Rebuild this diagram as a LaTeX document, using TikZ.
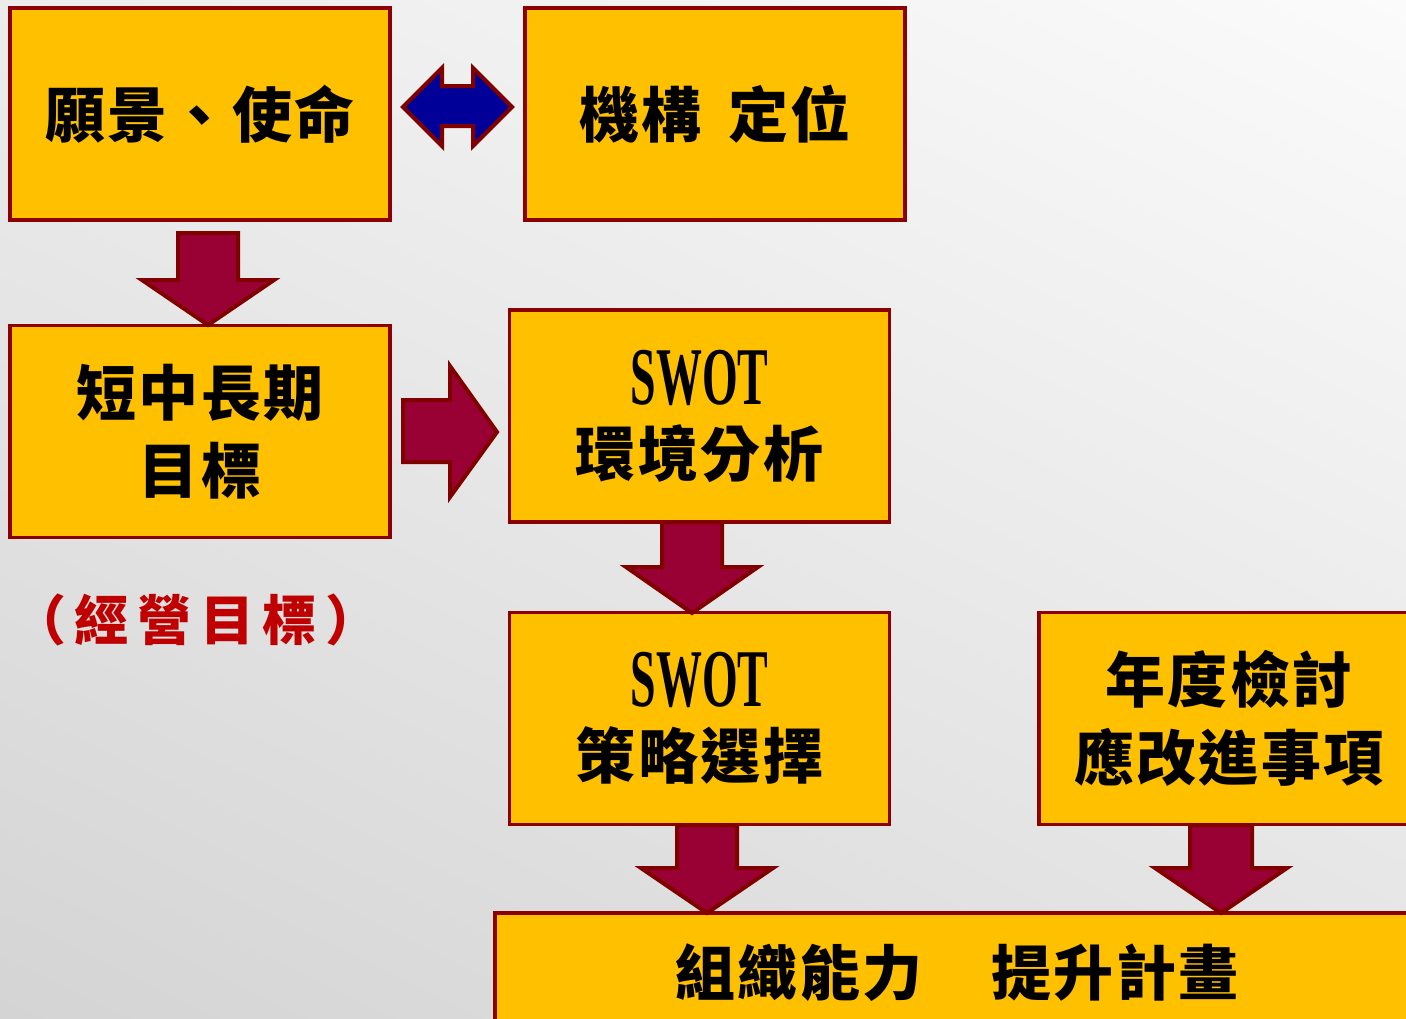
\documentclass[tikz,border=0pt]{standalone}
\usepackage{fontspec}
\usetikzlibrary{shadings}
\newfontfamily\cjk[LetterSpace=4]{Noto Sans CJK TC}
\newfontfamily\cjklab[LetterSpace=16]{Noto Sans CJK TC}
\newfontfamily\swotfont[FakeStretch=0.56]{Liberation Serif}
\definecolor{boxfill}{HTML}{FFC000}
\definecolor{boxline}{HTML}{8B0000}
\definecolor{arrfill}{HTML}{990033}
\definecolor{arrline}{HTML}{800000}
\definecolor{dblfill}{HTML}{000099}
\definecolor{labred}{HTML}{C00000}
\definecolor{bgul}{HTML}{ECECEC}
\definecolor{bgur}{HTML}{FBFBFB}
\definecolor{bgll}{HTML}{D4D4D4}
\definecolor{bglr}{HTML}{E4E4E4}
\tikzset{
  box/.style={draw=boxline, line width=1.6pt, fill=boxfill, minimum width=190pt, minimum height=106pt,
    align=center, inner sep=0pt, font=\cjk\bfseries\fontsize{30}{39}\selectfont},
  barrow/.style={draw=arrline, line width=2pt, fill=arrfill, line join=miter},
  darrow/.style={draw=arrline, line width=2pt, fill=dblfill, line join=miter}
}
\newcommand\DArrow[5]{% cx, top, head y, tip, half shaft
  \draw[barrow] (#1-#5,#2) -- (#1+#5,#2) -- (#1+#5,#3) -- (#1+66,#3) -- (#1,#4) -- (#1-66,#3) -- (#1-#5,#3) -- cycle;}
\newcommand\SW{{\swotfont\fontsize{41}{39}\selectfont SWOT}}
\begin{document}
\begin{tikzpicture}[x=0.5pt,y=-0.5pt]
\useasboundingbox (0,0) rectangle (1406,1018);
\begin{scope}
\clip (0,0) rectangle (1406,1018);
\shade[upper left=bgul, upper right=bgur, lower left=bgll, lower right=bglr]
  (0,0) rectangle (1406,1018);

\node[box] (b1) at (200,114) {\raisebox{-2pt}{願景、使命}};
\node[box] (b2) at (715,114) {\raisebox{-2pt}{機構\hspace{0.45em}定位}};
\node[box] (b3) at (200,431.5) {短中長期\\目標};
\node[box] (b4) at (699.5,416) {\raisebox{-3pt}{\SW}\\環境分析};
\node[box] (b5) at (699.5,718.5) {\raisebox{-3pt}{\SW}\\策略選擇};
\node[box] (b6) at (1229,718.5) {年度檢討\\應改進事項};
\node[box, minimum width=462pt, minimum height=60pt] (b7) at (957,973) {組織能力\hspace{1.15em}提升計畫};

\node[text=labred, font=\cjklab\bfseries\fontsize{27}{30}\selectfont, inner sep=0pt] (lab) at (196,620) {（經營目標）};

% double arrow between b1 and b2
\draw[darrow] (403,107) -- (442,68) -- (442,86) -- (473,86) -- (473,68) -- (512,107) -- (473,146) -- (473,126) -- (442,126) -- (442,146) -- cycle;

% right arrow between b3 and b4
\draw[barrow] (403,400) -- (450,400) -- (450,366) -- (497,432) -- (450,497) -- (450,462) -- (403,462) -- cycle;

\DArrow{208}{233}{280}{325}{30}
\DArrow{692}{522}{567}{613}{30}
\DArrow{707}{825}{868}{913}{30}
\DArrow{1221}{825}{868}{913}{31}
\end{scope}
\end{tikzpicture}
\end{document}
